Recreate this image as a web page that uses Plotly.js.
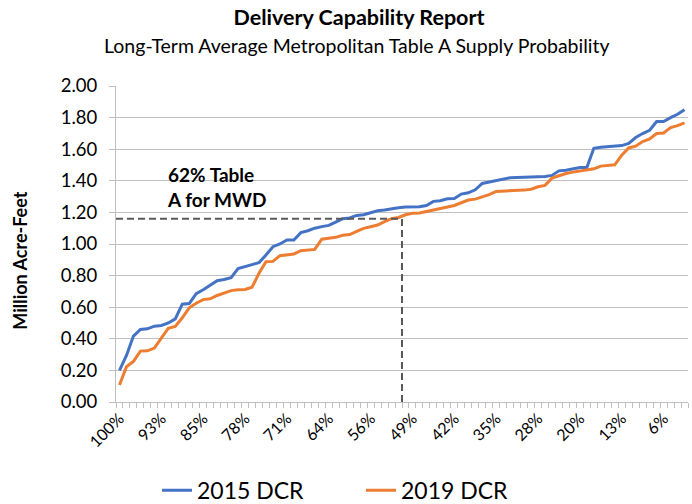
<!DOCTYPE html>
<html>
<head>
<meta charset="utf-8">
<script src="https://cdn.plot.ly/plotly-3.0.1.min.js"></script>
<style>html,body{margin:0;padding:0;background:#fff;}#chart{width:692px;height:504px;}</style>
</head>
<body>
<div id="chart"></div>
<script>
// Exceedance tick labels (one label every 6 of the 82 ranked years)
const tickLabels = ["100%","93%","85%","78%","71%","64%","56%","49%","42%","35%","28%","20%","13%","6%"];
const labelStep = 6;

// Million acre-feet, ranked from highest exceedance probability to lowest
const dcr2015 = [0.20,0.295,0.417,0.459,0.463,0.48,0.484,0.50,0.526,0.619,
0.623,0.686,0.71,0.737,0.768,0.775,0.787,0.845,0.857,0.869,
0.882,0.93,0.983,1.00,1.025,1.025,1.072,1.084,1.10,1.11,
1.118,1.139,1.16,1.165,1.181,1.185,1.20,1.21,1.215,1.223,
1.229,1.234,1.234,1.236,1.244,1.27,1.274,1.286,1.288,1.316,
1.324,1.343,1.383,1.392,1.40,1.413,1.419,1.421,1.423,1.425,
1.425,1.427,1.434,1.463,1.467,1.474,1.484,1.484,1.606,1.613,
1.615,1.619,1.623,1.636,1.674,1.699,1.72,1.775,1.775,1.80,
1.821,1.85];

const dcr2019 = [0.107,0.223,0.257,0.322,0.324,0.341,0.404,0.467,0.478,0.533,
0.596,0.625,0.648,0.653,0.674,0.69,0.705,0.71,0.712,0.726,
0.815,0.888,0.89,0.926,0.93,0.937,0.958,0.962,0.966,1.03,
1.038,1.042,1.055,1.06,1.08,1.099,1.109,1.12,1.141,1.16,
1.168,1.185,1.194,1.196,1.206,1.215,1.223,1.232,1.244,1.261,
1.278,1.284,1.299,1.312,1.333,1.335,1.335,1.337,1.341,1.347,
1.362,1.371,1.417,1.432,1.446,1.455,1.463,1.467,1.476,1.493,
1.499,1.501,1.562,1.608,1.619,1.648,1.665,1.699,1.703,1.737,
1.749,1.766];

// Reference: 62% of Table A for MWD
const refValue = 1.16;
const refIndex = 40.5;

const idx = dcr2015.map((_, i) => i);
const tickVals = tickLabels.map((_, k) => k * labelStep);

const FONT = "Lato, 'Open Sans', sans-serif";

const traces = [
  {x: idx, y: dcr2015, type: 'scatter', mode: 'lines', name: '2015 DCR',
   line: {color: '#4472C4', width: 3}},
  {x: idx, y: dcr2019, type: 'scatter', mode: 'lines', name: '2019 DCR',
   line: {color: '#ED7D31', width: 3}}
];

const layout = {
  width: 692, height: 504,
  margin: {l: 116, r: 4, t: 86, b: 102, autoexpand: false},
  paper_bgcolor: '#fff', plot_bgcolor: '#fff',
  font: {family: FONT, color: '#000'},
  showlegend: true,
  title: {text: '<b>Delivery Capability Report</b>', x: 359/692, xanchor: 'center',
          y: 1 - 17/504, yanchor: 'middle', yref: 'container',
          font: {family: FONT, size: 21.5, color: '#000'}},
  xaxis: {
    range: [-0.5, dcr2015.length - 0.5], automargin: false,
    tickmode: 'array', tickvals: tickVals, ticktext: tickLabels,
    tickangle: -45, ticks: '', showgrid: false, zeroline: false,
    showline: true, linecolor: '#bfbfbf', linewidth: 1,
    tickfont: {family: FONT, size: 16, color: '#000'},
    minor: {tickmode: 'linear', tick0: 0.5, dtick: 1, ticks: 'outside', ticklen: 5,
            tickcolor: '#bfbfbf', tickwidth: 1, showgrid: false}
  },
  yaxis: {
    range: [0, 2], dtick: 0.2, tick0: 0, tickformat: '.2f', automargin: false,
    showgrid: true, gridcolor: '#c0c0c0', gridwidth: 1, zeroline: false,
    showline: true, linecolor: '#bfbfbf', linewidth: 1,
    ticks: 'outside', ticklen: 6, tickcolor: '#bfbfbf',
    ticklabelstandoff: 8,
    tickfont: {family: FONT, size: 18.5, color: '#000'}
  },
  legend: {orientation: 'h', x: (157 - 116) / 572, xanchor: 'left', y: -(491 - 402.5) / 316.5, yanchor: 'middle',
           font: {family: FONT, size: 23, color: '#000'},
           entrywidth: 159, entrywidthmode: 'pixels'},
  shapes: [
    {type: 'line', xref: 'x', yref: 'y', x0: -0.5, x1: refIndex, y0: refValue, y1: refValue,
     line: {color: '#595959', width: 2, dash: '7px,4px'}},
    {type: 'line', xref: 'x', yref: 'y', x0: refIndex, x1: refIndex, y0: 0, y1: refValue,
     line: {color: '#595959', width: 2, dash: '7px,4px'}}
  ],
  annotations: [
    {text: 'Long-Term Average Metropolitan Table A Supply Probability', xref: 'paper', yref: 'paper',
     x: (357 - 116) / 572, y: 1 + (86 - 45) / 316.5, xanchor: 'center', yanchor: 'middle',
     showarrow: false, font: {family: FONT, size: 19.5, color: '#000'}},
    {text: '<b>Million Acre-Feet</b>', xref: 'paper', yref: 'paper', textangle: -90,
     x: (20 - 116) / 572, y: (402.5 - 261) / 316.5, xanchor: 'center', yanchor: 'middle',
     showarrow: false, font: {family: FONT, size: 18, color: '#000'}},
    {text: '<b>62% Table<br>A for MWD</b>', xref: 'paper', yref: 'paper',
     x: (165 - 116) / 572, y: (402.5 - 187) / 316.5, xanchor: 'left', yanchor: 'middle', align: 'left',
     showarrow: false, font: {family: FONT, size: 19, color: '#000'}}
  ]
};

Plotly.newPlot('chart', traces, layout, {displayModeBar: false, staticPlot: true});
</script>
</body>
</html>
